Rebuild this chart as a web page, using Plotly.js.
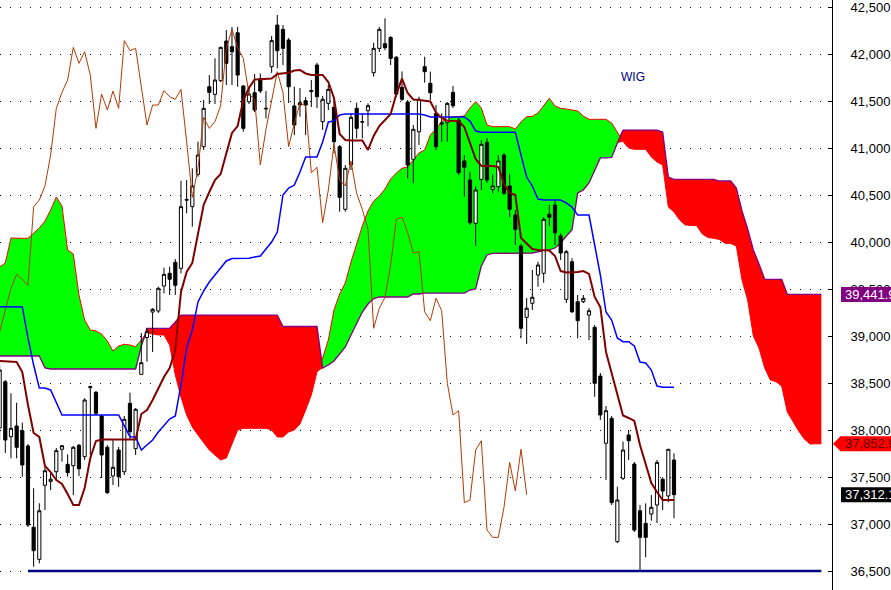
<!DOCTYPE html>
<html><head><meta charset="utf-8">
<script src="https://cdn.plot.ly/plotly-3.0.1.min.js"></script>
<style>html,body{margin:0;padding:0;background:#fff;overflow:hidden}#chart{width:891px;height:590px;}</style>
</head><body><div id="chart"></div>
<script>
// ---- Data (WIG daily, Ichimoku view) ----
const candleOpen = [
38021,38514,37929,38043,37993,37830,36965,36624,37412,37454,
37556,37795,37635,37620,37837,37716,38450,38401,38149,37816,
37511,37787,37556,38284,37801,38592,38984,39255,39266,39532,
39667,39784,39720,40453,40376,40720,41014,41652,41571,41716,
42138,42078,42226,41659,41492,41588,41738,41415,41865,42308,
42262,42149,41447,41482,41503,41600,41883,41280,41475,41433,
41014,40348,40819,41422,41275,41397,41801,42060,42110,42176,
41965,41646,41489,40880,41173,41865,41688,41369,41255,41269,
41592,41298,40862,40659,40199,40667,41061,40561,40588,40925,
40596,40287,39957,39199,39348,39649,39667,40295,40394,40064,
39390,39790,39365,39365,39223,39092,38574,37859,38124,36812,
37486,37947,37638,37141,37007,37106,37202,37476,37298,37681];
const candleHigh = [
38691,38532,38390,38290,38078,37851,37380,37220,37610,37539,
37808,37840,37741,37830,37851,38337,38470,38415,38160,37840,
37901,37819,38149,38397,38234,39032,39082,39298,39524,39727,
39737,39819,40652,40659,40784,41067,41510,41776,41954,42078,
42255,42287,42290,41670,41659,41787,41794,41606,42191,42415,
42308,42170,41652,41638,41543,41723,41907,41553,41670,41510,
41032,40819,41369,41482,41369,41475,42120,42287,42380,42191,
41979,41815,41510,41245,41546,41971,41812,41457,41369,41489,
41659,41319,40925,40748,40595,41085,41106,40720,40925,40947,
40723,40340,39979,39404,39702,39790,40266,40394,40447,40096,
39915,39827,39436,39436,39298,39117,38606,38255,38149,37397,
37876,38000,37660,37202,37220,37308,37681,37497,37798,37752];
const candleLow = [
37894,37755,37699,37699,37503,36968,36546,36582,37149,37362,
37468,37663,37503,37308,37511,37681,37734,38160,37489,37319,
37415,37397,37521,37894,37734,38585,38727,38830,39245,39454,
39436,39436,39667,40305,40163,40695,40979,41468,41468,41702,
41670,41670,41652,41173,41468,41383,41585,41315,41798,41848,
41883,41479,41138,41333,41138,41436,41425,41191,41404,40943,
40322,40322,40766,41103,41103,41230,41759,42022,42040,41883,
41543,41500,40677,40624,41032,41695,41510,40979,41067,41067,
41425,40713,40482,40181,39960,40553,40628,40518,40535,40500,
40263,39968,38975,38915,39277,39524,39567,40170,39968,39808,
39351,39245,38975,39351,38957,38354,38106,37468,37202,36798,
37468,37681,36915,36511,36646,37035,37011,37149,37234,37061];
const candleClose = [
38638,37894,38018,37816,37628,36989,36716,37141,37567,37476,
37780,37833,37546,37816,37588,38319,38461,38178,37734,37333,
37603,37503,38114,37982,38220,38716,39046,39284,39507,39656,
39603,39539,40376,40446,40596,40925,41422,41592,41723,42071,
41901,42024,41776,41209,41574,41404,41606,41422,42142,42035,
42060,41652,41245,41457,41457,41610,41546,41518,41624,41067,
40475,40784,41326,41209,41280,41450,42060,42262,42067,41953,
41574,41518,40819,41199,41518,41812,41588,41014,41265,41475,
41450,40737,40795,40205,40553,41039,40659,40596,40862,40518,
40348,40135,39082,39295,39412,39755,40241,40263,40099,39883,
39897,39258,39163,39401,39269,38497,38160,38205,37227,37255,
37787,37886,36936,36858,36858,37178,37656,37351,37795,37312.1];

// Tenkan-sen (conversion line), one value per candle
const tenkanSen = [
38734,38729,38729,38723,38617,38266,37968,37926,37617,37553,
37468,37426,37319,37202,37202,37383,37702,37883,37899,37899,
37899,37899,37899,37899,37899,38170,38213,38319,38447,38564,
38660,38851,39468,39681,39777,40106,40394,40532,40660,40723,
40947,41160,41234,41511,41638,41729,41731,41731,41739,41787,
41798,41801,41824,41830,41793,41777,41777,41777,41702,41532,
41149,41085,41080,41080,41080,40979,41128,41234,41298,41362,
41574,41739,41585,41516,41511,41505,41495,41378,41319,41290,
41290,41287,41223,41064,40883,40809,40809,40809,40798,40617,
40521,40500,40043,39979,39926,39915,39915,39910,39851,39691,
39676,39676,39681,39691,39660,39415,39309,38830,38606,38372,
38154,38128,38096,37840,37628,37436,37340,37255,37255,37255];

// Kijun-sen (base line), one value per candle
const kijunSen = [
39312,39312,39312,39312,39309,38979,38691,38447,38447,38426,
38287,38160,38160,38160,38160,38160,38160,38160,38160,38160,
38160,38160,38043,37929,37926,37787,37840,37894,37979,38053,
38117,38149,38479,38872,39064,39362,39479,39574,39649,39723,
39798,39824,39827,39827,39827,39840,39851,39926,40000,40106,
40500,40574,40606,40745,40904,40904,40904,41064,41277,41287,
41351,41362,41362,41362,41362,41362,41362,41362,41362,41362,
41362,41362,41362,41362,41362,41351,41330,41330,41330,41330,
41330,41330,41330,41287,41181,41167,41167,41167,41167,41167,
41167,41167,40926,40691,40596,40457,40447,40447,40447,40447,
40415,40372,40287,40287,40287,39968,39649,39255,39170,38979,
38939,38939,38894,38723,38713,38638,38468,38454,38454,38454];

// Senkou span A / B (cloud), plotted 26 periods ahead: 146 positions
const senkouA = [
39734,39777,40043,40039,40039,40039,40096,40149,40223,40340,
40479,40383,39915,39872,39436,39170,39064,39053,39021,38947,
38840,38894,38912,38904,38886,38957,39032,39021,39011,39011,
38904,38585,38351,38160,38032,37947,37862,37787,37734,37681,
37702,37862,38000,38018,38018,38018,38018,38018,38000,37926,
37926,37979,38000,38064,38213,38372,38617,38766,38957,39277,
39447,39564,39787,39979,40170,40330,40436,40489,40564,40670,
40734,40784,40798,40872,40947,40979,41138,41202,41280,41309,
41333,41335,41340,41426,41493,41426,41245,41227,41227,41227,
41227,41202,41277,41333,41337,41372,41457,41529,41447,41422,
41415,41408,41394,41340,41305,41305,41305,41305,41266,41160,
41069,41000,40986,40986,40986,40904,40851,40819,40372,40319,
40234,40181,40176,40173,40085,40048,40039,40027,39986,39984,
39957,39596,39383,39000,38872,38660,38532,38514,38468,38191,
38090,37989,37904,37851,37852.9,37852.9];
const senkouB = [
38787,38787,38787,38787,38787,38787,38787,38787,38660,38649,
38649,38649,38649,38649,38649,38649,38649,38649,38649,38649,
38649,38649,38649,38649,38649,38894,39082,39082,39082,39082,
39082,39149,39223,39223,39223,39223,39223,39223,39223,39223,
39223,39223,39223,39223,39223,39223,39223,39223,39223,39223,
39101,39101,39101,39101,39101,39101,39101,38660,38691,38734,
38809,38883,39011,39138,39255,39340,39399,39415,39415,39415,
39415,39415,39415,39447,39447,39457,39457,39457,39457,39457,
39457,39457,39457,39489,39500,39745,39862,39878,39878,39878,
39878,39878,39883,39883,39883,39894,39904,39915,39936,39989,
40064,40128,40521,40553,40628,40766,40894,40894,40899,41053,
41191,41191,41191,41191,41191,41191,41191,41170,40691,40667,
40667,40667,40667,40667,40667,40667,40667,40649,40649,40649,
40574,40330,40138,39915,39766,39603,39603,39603,39603,39441.9,
39441.9,39441.9,39441.9,39441.9,39441.9,39441.9];

const chikouShift = 26;              // lagging span: close drawn 26 periods back
const supportLevel = [36500, 36500]; // horizontal support line
const supportSpan = [5, 145];
const priceTicks = [36500,37000,37500,38000,38500,39000,39500,40000,40500,41000,41500,42000,42500];
const lastValues = {spanB: 39441.9, spanA: 37852.9, close: 37312.1};
const chartTitle = 'WIG';

// ---- Derived geometry ----
const candleIdx = candleClose.map((_, i) => i);
const cloudIdx = senkouA.map((_, i) => i);
const cloudFloor = senkouA.map((a, i) => Math.min(a, senkouB[i]));
const chikouY = candleClose.slice(chikouShift);
const chikouX = chikouY.map((_, i) => i);

const xRange = [0.065, 146.88];
const yRange = [36297.9, 42574.5];
const fontFam = 'Liberation Sans, Arial, sans-serif';

const base = {xaxis: 'x', yaxis: 'y', hoverinfo: 'skip', showlegend: false};
const traces = [
  Object.assign({x: cloudIdx, y: cloudFloor, mode: 'lines', line: {width: 0}}, base),
  Object.assign({x: cloudIdx, y: senkouA, mode: 'lines', fill: 'tonexty', fillcolor: '#00FF00', line: {width: 0}}, base),
  Object.assign({x: cloudIdx, y: cloudFloor, mode: 'lines', line: {width: 0}}, base),
  Object.assign({x: cloudIdx, y: senkouB, mode: 'lines', fill: 'tonexty', fillcolor: '#FF0000', line: {width: 0}}, base),
  Object.assign({x: cloudIdx, y: senkouA, mode: 'lines', line: {color: '#FF0000', width: 1}}, base),
  Object.assign({x: cloudIdx, y: senkouB, mode: 'lines', line: {color: '#800080', width: 1.3}}, base),
  Object.assign({x: supportSpan, y: supportLevel, mode: 'lines', line: {color: '#000080', width: 2.5}}, base),
  {
    type: 'candlestick', xaxis: 'x2', yaxis: 'y2', x: candleIdx,
    open: candleOpen, high: candleHigh, low: candleLow, close: candleClose,
    increasing: {line: {color: '#000000', width: 1}, fillcolor: '#FFFFFF'},
    decreasing: {line: {color: '#000000', width: 1}, fillcolor: '#000000'},
    whiskerwidth: 0, hoverinfo: 'skip', showlegend: false
  },
  {x: chikouX, y: chikouY, xaxis: 'x3', yaxis: 'y3', mode: 'lines', line: {color: '#B33A06', width: 1}, hoverinfo: 'skip', showlegend: false},
  {x: candleIdx, y: kijunSen, xaxis: 'x3', yaxis: 'y3', mode: 'lines', line: {color: '#0000FF', width: 1.5}, hoverinfo: 'skip', showlegend: false},
  {x: candleIdx, y: tenkanSen, xaxis: 'x3', yaxis: 'y3', mode: 'lines', line: {color: '#800000', width: 2}, hoverinfo: 'skip', showlegend: false}
];

const hiddenX = (ov) => ({range: xRange, autorange: false, visible: false, overlaying: ov, rangeslider: {visible: false}, fixedrange: true});
const hiddenY = (ov) => ({range: yRange, autorange: false, visible: false, overlaying: ov, fixedrange: true});

function priceLabel(val, bg, txt, arrow) {
  const shapes = [{
    type: 'rect', xref: 'paper', yref: 'y', xsizemode: 'pixel', ysizemode: 'pixel',
    xanchor: 1, yanchor: val, x0: arrow ? 8 : 9, x1: 80, y0: -7.5, y1: 7.5,
    fillcolor: bg, line: {width: 0}, layer: 'above'
  }];
  if (arrow) shapes.push({
    type: 'path', xref: 'paper', yref: 'y', xsizemode: 'pixel', ysizemode: 'pixel',
    xanchor: 1, yanchor: val, path: 'M1,0 L8.5,7.5 L8.5,-7.5 Z',
    fillcolor: bg, line: {width: 0}, layer: 'above'
  });
  const ann = {
    xref: 'paper', yref: 'y', x: 844 / 832, y: val, xanchor: 'left', yanchor: 'middle',
    text: val.toLocaleString('en-US', {minimumFractionDigits: 1, maximumFractionDigits: 1}),
    showarrow: false, borderpad: 0, font: {family: fontFam, size: 13, color: txt}
  };
  return {shapes, ann};
}
const lb1 = priceLabel(lastValues.spanB, '#800080', '#FFFFFF', false);
const lb2 = priceLabel(lastValues.spanA, '#FF0000', '#600000', true);
const lb3 = priceLabel(lastValues.close, '#000000', '#FFFFFF', false);

const layout = {
  width: 891, height: 590,
  margin: {l: 0, r: 59, t: 0, b: 0, pad: 0},
  paper_bgcolor: '#FFFFFF', plot_bgcolor: '#FFFFFF',
  showlegend: false, hovermode: false, boxgap: 0.2,
  font: {family: fontFam, size: 13, color: '#000000'},
  xaxis: {range: xRange, autorange: false, showgrid: false, zeroline: false, showticklabels: false,
          ticks: '', showline: false, rangeslider: {visible: false}, fixedrange: true},
  yaxis: {range: yRange, autorange: false, side: 'right', tickvals: priceTicks, tickformat: ',d',
          showgrid: true, gridcolor: '#000000', gridwidth: 1, griddash: '1px,9px',
          zeroline: false, showline: true, linecolor: '#000000', linewidth: 1,
          ticks: 'inside', ticklen: 4, tickcolor: '#000000', tickwidth: 1,
          ticklabelstandoff: 15, ticklabeloverflow: 'allow',
          tickfont: {family: fontFam, size: 13, color: '#000000'}, fixedrange: true},
  xaxis2: Object.assign(hiddenX('x'), {anchor: 'y2'}),
  yaxis2: Object.assign(hiddenY('y'), {anchor: 'x2'}),
  xaxis3: Object.assign(hiddenX('x'), {anchor: 'y3'}),
  yaxis3: Object.assign(hiddenY('y'), {anchor: 'x3'}),
  shapes: [].concat(lb1.shapes, lb2.shapes, lb3.shapes),
  annotations: [
    {xref: 'paper', yref: 'paper', x: 633 / 832, y: 1 - 77 / 590, xanchor: 'center', yanchor: 'middle',
     text: chartTitle, showarrow: false, font: {family: fontFam, size: 12, color: '#000080'}},
    lb1.ann, lb2.ann, lb3.ann
  ]
};

Plotly.newPlot('chart', traces, layout, {staticPlot: true, displayModeBar: false});
</script></body></html>
